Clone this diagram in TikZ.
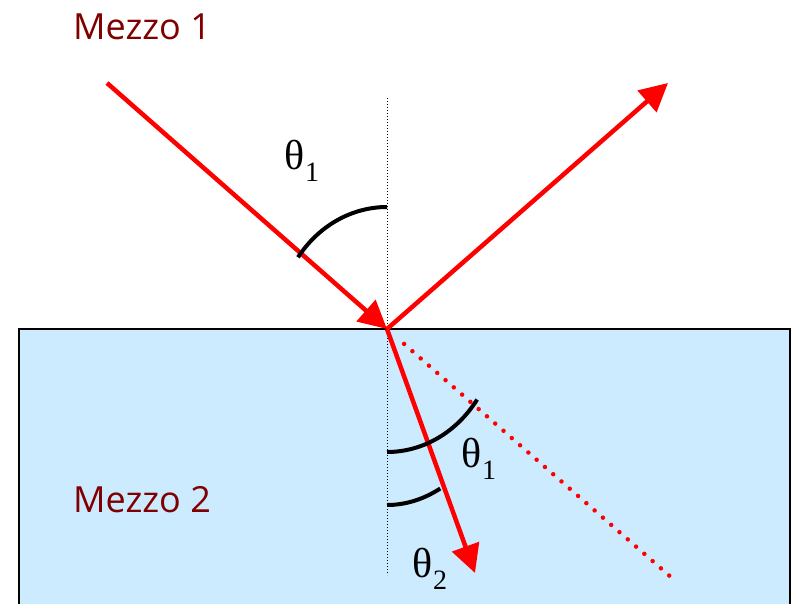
\documentclass[tikz,border=0pt]{standalone}
\usepackage{fontspec}
\newfontfamily\labelfont{Open Sans}
\newfontfamily\anglefont{Liberation Serif}
\usepackage{tikz}
\usetikzlibrary{arrows.meta, calc}
\definecolor{my_red}{HTML}{FF0000}
\definecolor{my_darkred}{HTML}{800000}
\definecolor{my_water}{HTML}{CCEBFF}

% angle symbol with a lowered index
\newcommand{\angsym}[1]{θ\raisebox{-0.3em}{\fontsize{28}{30}\selectfont #1}}

\begin{document}
\begin{tikzpicture}[
    x=1pt, y=1pt,
    ray/.style={my_red, line width=4.5pt, -{Triangle[length=28pt, width=28pt]}},
    anglearc/.style={black, line width=4pt},
    medium/.style={my_darkred, font=\labelfont\fontsize{36}{40}\selectfont},
    anglelabel/.style={font=\anglefont\fontsize{42}{46}\selectfont}
]
\useasboundingbox (0,0) rectangle (792,603);

% Points (pixel grid, y up):
%   O    = point of incidence on the surface
%   src  = start of the incident ray
%   refl = tip of the reflected ray
%   refr = tip of the refracted ray
%   ext  = end of the undeviated continuation
\coordinate (O) at (387,274);
\coordinate (src) at (107,520);
\coordinate (refl) at (668,520);
\coordinate (refr) at (475,30);
\coordinate (ext) at (672,25);
\coordinate (ntop) at (387,505);
\coordinate (nbot) at (387,28);

% Second medium (water)
\fill[my_water] (19,-4) rectangle (790,274);
\draw[black, line width=2.5pt] (19,-4) -- (19,274) -- (790,274) -- (790,-4);

% Normal to the surface
\draw[black, line width=1pt, dash pattern=on 1pt off 2pt] (ntop) -- (nbot);

% Undeviated continuation of the incident ray
\draw[my_red, line width=4.5pt, line cap=round, dash pattern=on 0pt off 11pt]
    ($(O)!0.06!(ext)$) -- (ext);

% Incident, reflected and refracted rays
\draw[ray] (src) -- (O);
\draw[ray] (O) -- (refl);
\draw[ray] (O) -- (refr);

% Angle arcs
\draw[anglearc] ($(O) + (0,122)$) arc[start angle=90, end angle=144, x radius=110, y radius=122];
\draw[anglearc] ($(O) + (0,-123)$) arc[start angle=270, end angle=325, x radius=110, y radius=123];
\draw[anglearc] ($(O) + (0,-176)$) arc[start angle=270, end angle=295, x radius=126, y radius=176];

% Angle labels
\node[anglelabel] (t1up) at (302,442) {\angsym{1}};
\node[anglelabel] (t1dn) at (479,144) {\angsym{1}};
\node[anglelabel] (t2) at (430,34) {\angsym{2}};

% Media labels
\node[medium] (m1) at (142,576) {Mezzo 1};
\node[medium] (m2) at (142,103) {Mezzo 2};

\end{tikzpicture}
\end{document}
